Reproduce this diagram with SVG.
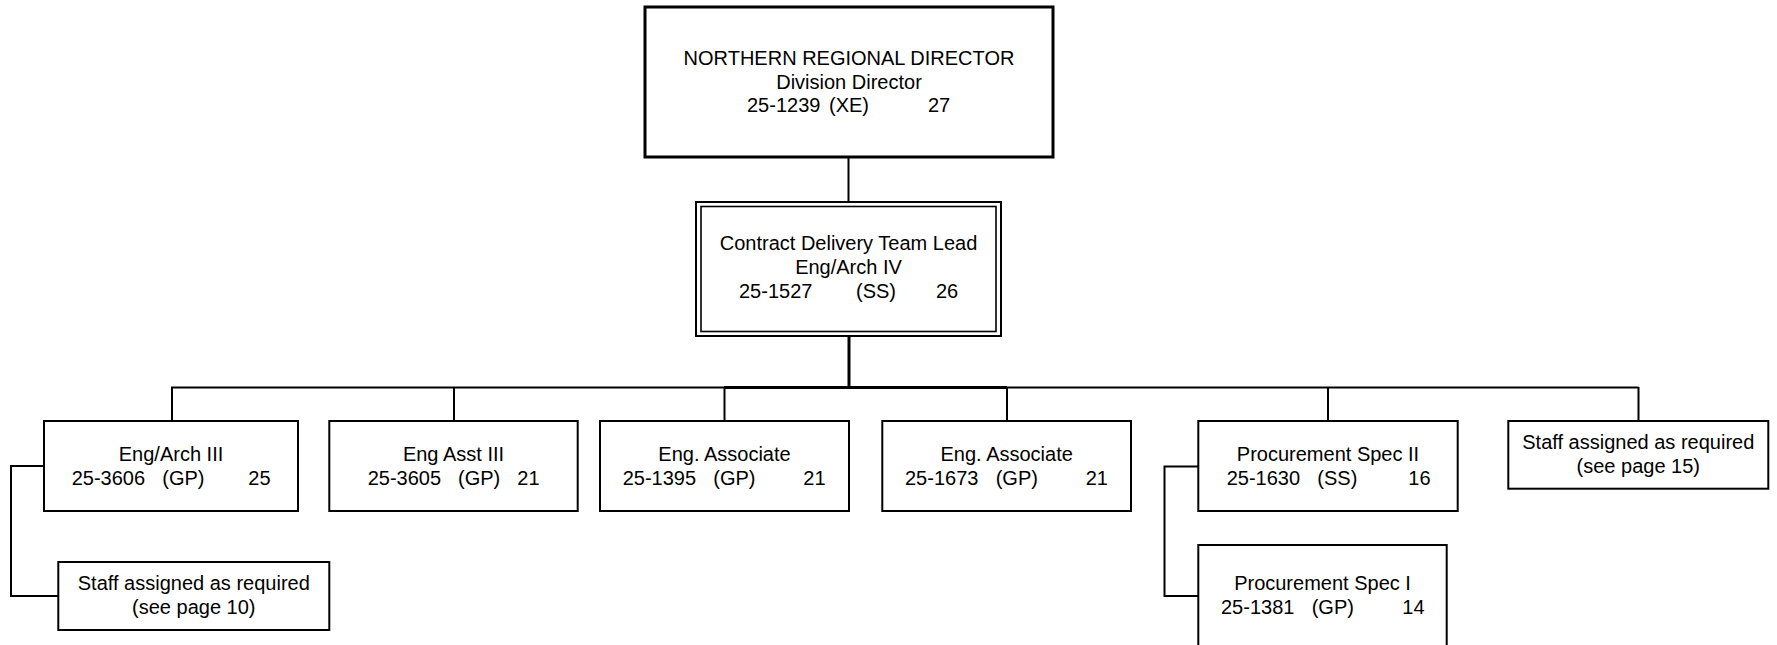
<svg xmlns="http://www.w3.org/2000/svg" width="1777" height="645" viewBox="0 0 1777 645">
<style>
  text { font-family: "Liberation Sans", Arial, sans-serif; font-size: 20px; fill: #000; }
  .c { text-anchor: middle; }
  .box { fill: #fff; stroke: #000; stroke-width: 2; }
  .thick { fill: #fff; stroke: #000; stroke-width: 3; }
  .dbl { fill: none; stroke: #000; stroke-width: 1.6; }
  .ln { fill: none; stroke: #000; stroke-width: 2; }
  .lnb { fill: none; stroke: #000; stroke-width: 3; }
</style>
<rect x="0" y="0" width="1777" height="645" fill="#fff"/>
<g id="connectors">
  <line class="ln" x1="848.5" y1="157" x2="848.5" y2="202"/>
  <line class="lnb" x1="849" y1="336" x2="849" y2="388"/>
  <line class="ln" x1="171" y1="387.5" x2="1638.5" y2="387.5"/>
  <line class="lnb" x1="724" y1="387.5" x2="1007" y2="387.5"/>
  <line class="ln" x1="172" y1="387" x2="172" y2="421"/>
  <line class="ln" x1="454" y1="387" x2="454" y2="421"/>
  <line class="ln" x1="724.5" y1="387" x2="724.5" y2="421"/>
  <line class="ln" x1="1007" y1="387" x2="1007" y2="421"/>
  <line class="ln" x1="1328" y1="387" x2="1328" y2="421"/>
  <line class="ln" x1="1638.5" y1="387" x2="1638.5" y2="421"/>
  <polyline class="ln" points="44,466 11,466 11,596 58,596"/>
  <polyline class="ln" points="1198,466.5 1164.5,466.5 1164.5,596 1198,596"/>
</g>
<g id="director">
  <rect class="thick" x="645" y="7" width="408" height="150"/>
  <text class="c" x="849" y="65">NORTHERN REGIONAL DIRECTOR</text>
  <text class="c" x="849" y="88.5">Division Director</text>
  <text y="112"><tspan x="747">25-1239</tspan><tspan x="829">(XE)</tspan><tspan x="928">27</tspan></text>
</g>
<g id="team-lead">
  <rect class="box" x="696" y="202" width="305" height="134"/>
  <rect class="dbl" x="701" y="206.5" width="295" height="125"/>
  <text class="c" x="848.5" y="250">Contract Delivery Team Lead</text>
  <text class="c" x="848.5" y="274">Eng/Arch IV</text>
  <text y="298"><tspan x="739">25-1527</tspan><tspan x="856">(SS)</tspan><tspan x="936">26</tspan></text>
</g>
<g id="eng-arch-3">
  <rect class="box" x="44" y="421" width="254" height="90"/>
  <text class="c" x="171" y="461">Eng/Arch III</text>
  <text y="485"><tspan x="71.7">25-3606</tspan><tspan x="162.3">(GP)</tspan><tspan x="248.3">25</tspan></text>
</g>
<g id="staff-10">
  <rect class="box" x="58.3" y="562" width="271" height="68"/>
  <text class="c" x="193.8" y="590">Staff assigned as required</text>
  <text class="c" x="193.8" y="614">(see page 10)</text>
</g>
<g id="eng-asst-3">
  <rect class="box" x="329.3" y="421" width="248.4" height="90"/>
  <text class="c" x="453.5" y="461">Eng Asst III</text>
  <text y="485"><tspan x="367.7">25-3605</tspan><tspan x="458">(GP)</tspan><tspan x="517.3">21</tspan></text>
</g>
<g id="eng-assoc-1">
  <rect class="box" x="600" y="421" width="249" height="90"/>
  <text class="c" x="724.5" y="461">Eng. Associate</text>
  <text y="485"><tspan x="622.7">25-1395</tspan><tspan x="713.3">(GP)</tspan><tspan x="803.3">21</tspan></text>
</g>
<g id="eng-assoc-2">
  <rect class="box" x="882.3" y="421" width="248.7" height="90"/>
  <text class="c" x="1006.7" y="461">Eng. Associate</text>
  <text y="485"><tspan x="905">25-1673</tspan><tspan x="995.7">(GP)</tspan><tspan x="1085.7">21</tspan></text>
</g>
<g id="proc-spec-2">
  <rect class="box" x="1198.3" y="421" width="259.4" height="90"/>
  <text class="c" x="1328" y="461">Procurement Spec II</text>
  <text y="485"><tspan x="1226.7">25-1630</tspan><tspan x="1317.3">(SS)</tspan><tspan x="1408.3">16</tspan></text>
</g>
<g id="proc-spec-1">
  <rect class="box" x="1198.3" y="545" width="248.4" height="120"/>
  <text class="c" x="1322.5" y="590">Procurement Spec I</text>
  <text y="614"><tspan x="1221">25-1381</tspan><tspan x="1311.7">(GP)</tspan><tspan x="1402.3">14</tspan></text>
</g>
<g id="staff-15">
  <rect class="box" x="1508.3" y="421" width="260" height="67.7"/>
  <text class="c" x="1638.3" y="448.5">Staff assigned as required</text>
  <text class="c" x="1638.3" y="473">(see page 15)</text>
</g>
</svg>
